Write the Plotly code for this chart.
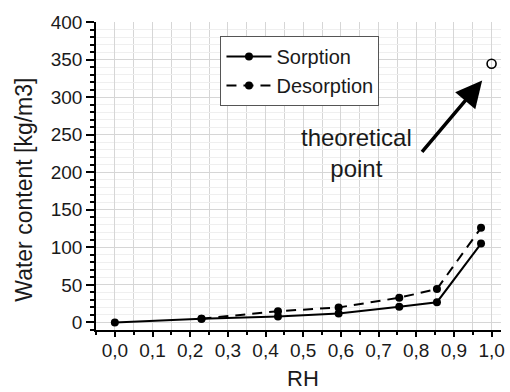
import plotly.graph_objects as go

rh_sorp = [0.0, 0.23, 0.433, 0.594, 0.755, 0.855, 0.972]
wc_sorp = [0, 5, 8, 12, 21, 27, 105]
rh_desorp = [0.23, 0.433, 0.594, 0.755, 0.855, 0.972]
wc_desorp = [5, 15, 20, 33, 44.5, 126]
rh_theory = [1.0]
wc_theory = [344.5]

x_ticks = [i / 10 for i in range(11)]
x_tick_labels = ["0,0", "0,1", "0,2", "0,3", "0,4", "0,5", "0,6", "0,7", "0,8", "0,9", "1,0"]

FONT = "Liberation Sans, Arial, sans-serif"
TXT = "#1a1a1a"

L, R, T, B = 96, 5, 22, 62
PW, PH = 510 - L - R, 392 - T - B


def px(xp):
    return (xp - L) / PW


def py(yp):
    return (392 - B - yp) / PH


fig = go.Figure()
fig.add_trace(go.Scatter(x=rh_sorp, y=wc_sorp, mode="lines+markers", name="Sorption",
                         line=dict(color="black", width=2),
                         marker=dict(color="black", size=8)))
fig.add_trace(go.Scatter(x=rh_desorp, y=wc_desorp, mode="lines+markers", name="Desorption",
                         line=dict(color="black", width=2, dash="10px,7px"),
                         marker=dict(color="black", size=8)))
fig.add_trace(go.Scatter(x=rh_theory, y=wc_theory, mode="markers", showlegend=False,
                         marker=dict(symbol="circle-open", color="black", size=9,
                                     line=dict(width=1.6, color="black"))))

fig.add_annotation(x=0.975, y=322, ax=0.812, ay=225, xref="x", yref="y", axref="x", ayref="y",
                   text="", showarrow=True, arrowhead=2, arrowsize=1.5, arrowwidth=3.5,
                   arrowcolor="black", standoff=0)
fig.add_annotation(x=px(359), y=py(153), xref="paper", yref="paper",
                   xanchor="center", yanchor="middle",
                   text="theoretical<br>point", showarrow=False,
                   font=dict(family=FONT, size=24, color=TXT), align="center")
fig.add_annotation(x=px(23), y=py(190), xref="paper", yref="paper",
                   xanchor="center", yanchor="middle",
                   text="Water content [kg/m3]", textangle=-90, showarrow=False,
                   font=dict(family=FONT, size=23, color=TXT))
fig.add_annotation(x=px(305), y=py(378), xref="paper", yref="paper",
                   xanchor="center", yanchor="middle",
                   text="RH", showarrow=False,
                   font=dict(family=FONT, size=22, color=TXT))

fig.update_layout(
    width=510, height=392,
    margin=dict(l=L, r=R, t=T, b=B),
    paper_bgcolor="white", plot_bgcolor="white",
    font=dict(family=FONT, size=19, color=TXT),
    legend=dict(x=px(221.7), y=py(36), xanchor="left", yanchor="top",
                bordercolor="#555555", borderwidth=1, bgcolor="white", itemwidth=45,
                font=dict(family=FONT, size=20, color=TXT), tracegroupgap=0),
    showlegend=True,
)
fig.update_xaxes(range=[-0.05, 1.025], tickvals=x_ticks, ticktext=x_tick_labels,
                 showline=True, linecolor="black", linewidth=1.5,
                 ticks="outside", ticklen=5, tickwidth=1.5, tickcolor="black",
                 ticklabelstandoff=-3,
                 showgrid=True, gridcolor="#d6d6d6", gridwidth=1, zeroline=False,
                 minor=dict(dtick=0.05, tick0=0, ticks="outside", ticklen=3, tickcolor="black",
                            showgrid=True, gridcolor="#d6d6d6"))
fig.update_yaxes(range=[-10, 400], tick0=0, dtick=50,
                 showline=True, linecolor="black", linewidth=1.5,
                 ticks="outside", ticklen=8, tickwidth=1.5, tickcolor="black",
                 showgrid=True, gridcolor="#d6d6d6", gridwidth=1, zeroline=False,
                 minor=dict(dtick=10, tick0=0, ticks="outside", ticklen=4, tickcolor="black",
                            showgrid=True, gridcolor="#efefef"))

fig.write_html("out.html")
